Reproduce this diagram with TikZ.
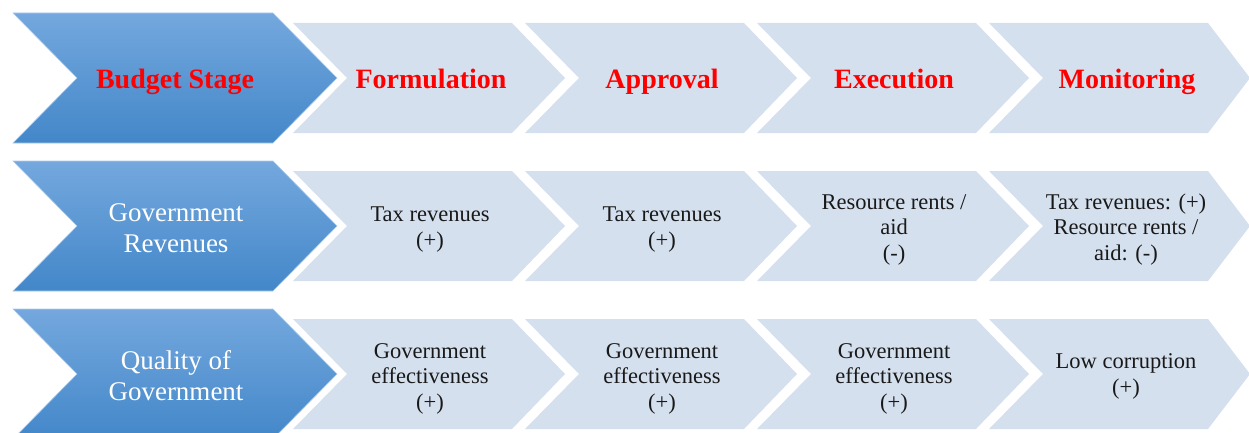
\documentclass[tikz,border=0pt]{standalone}
\usepackage{fontspec}
\setmainfont{Liberation Serif}
\definecolor{bluetop}{HTML}{74A8DE}
\definecolor{bluebot}{HTML}{4387C9}
\definecolor{lightfill}{HTML}{D5E0EE}
\definecolor{hdrred}{HTML}{FF0000}
\tikzset{
  bluechev/.style={top color=bluetop,bottom color=bluebot,draw=bluetop!60!white,line width=0.6pt},
  lightchev/.style={fill=lightfill},
  hdrtext/.style={text=hdrred,font=\fontsize{28}{30}\selectfont\bfseries,inner sep=0pt,anchor=base},
  bluetext/.style={text=white,font=\fontsize{27}{31}\selectfont,align=center,inner sep=0pt},
  bodytext/.style={text=black!90,font=\fontsize{22.5}{25.5}\selectfont,align=center,inner sep=0pt}
}
\newcommand\mybluechev[1]{%
  \path[bluechev] (13,#1) -- ++(260,0) -- ++(64,65) -- ++(-64,65) -- ++(-260,0) -- ++(64,-65) -- cycle;}
\newcommand\mylightchev[3]{%
  \path[lightchev] (#1,#2) -- ++(219,0) -- ++(#3,55) -- ++(-#3,55) -- ++(-219,0) -- ++(54,-55) -- cycle;}
\begin{document}
\begin{tikzpicture}[x=1pt,y=-1pt]
\useasboundingbox (0,0) rectangle (1249,433);
\clip (0,0) rectangle (1249,433);
\foreach \yy in {23,171,319} {
  \foreach \xx in {293,525,757} {\mylightchev{\xx}{\yy}{53}}
  \mylightchev{989}{\yy}{42}
}
\mybluechev{13}
\mybluechev{161}
\mybluechev{309}

% header texts
\node[hdrtext] (h0) at (175,89) {Budget Stage};
\node[hdrtext] (h1) at (431,89) {Formulation};
\node[hdrtext] (h2) at (662,89) {Approval};
\node[hdrtext] (h3) at (894,89) {Execution};
\node[hdrtext] (h4) at (1127,89) {Monitoring};

% row 2 texts
\node[bluetext] (r0) at (176,228) {Government\\Revenues};
\node[bodytext] (r1) at (430,229.5) {Tax revenues\\(+)};
\node[bodytext] (r2) at (662,229.5) {Tax revenues\\(+)};
\node[bodytext] (r3) at (894,229.5) {Resource rents /\\aid\\(-)};
\node[bodytext] (r4) at (1126,229.5) {Tax revenues: (+)\\Resource rents /\\aid: (-)};

% row 3 texts
\node[bluetext] (q0) at (176,376) {Quality of\\Government};
\node[bodytext] (q1) at (430,378.5) {Government\\effectiveness\\(+)};
\node[bodytext] (q2) at (662,378.5) {Government\\effectiveness\\(+)};
\node[bodytext] (q3) at (894,378.5) {Government\\effectiveness\\(+)};
\node[bodytext] (q4) at (1126,376.5) {Low corruption\\(+)};
\end{tikzpicture}
\end{document}
